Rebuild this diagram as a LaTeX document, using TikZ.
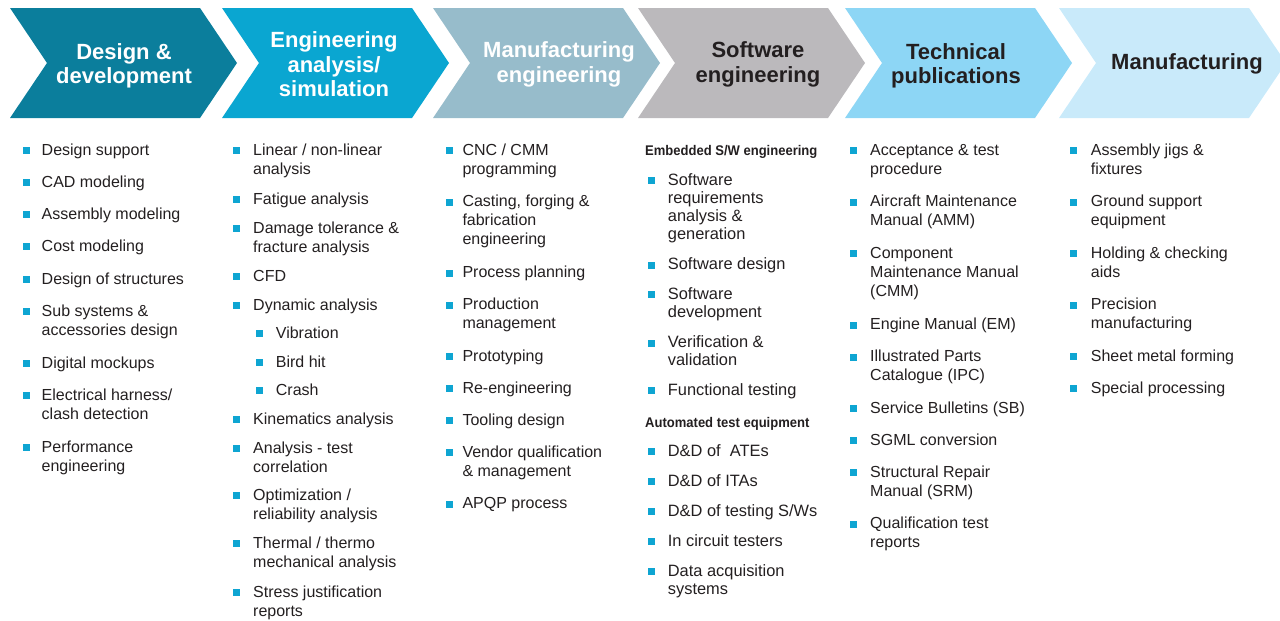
\documentclass[tikz,border=0pt]{standalone}
\usepackage{fontspec}
\setmainfont{Liberation Sans}
\newfontfamily\narrowfont[FakeStretch=0.93]{Liberation Sans}
\usepackage{tikz}
\usetikzlibrary{positioning}

\definecolor{chevA}{HTML}{0B7E9C}
\definecolor{chevB}{HTML}{0AA6D1}
\definecolor{chevC}{HTML}{97BCCB}
\definecolor{chevD}{HTML}{BBB9BC}
\definecolor{chevE}{HTML}{8DD6F5}
\definecolor{chevF}{HTML}{C9EAFA}
\definecolor{bulcol}{HTML}{0EA5D2}
\definecolor{txtcol}{HTML}{231F20}

\newcommand\itemlines[1]{\begin{tabular}[t]{@{}l@{}}#1\end{tabular}}

\tikzset{
  head/.style={font=\bfseries\fontsize{22}{24.5}\selectfont, align=center, anchor=base, inner sep=0pt},
  item/.style={font=\fontsize{16}{19}\selectfont, text=txtcol, anchor=base west, inner sep=0pt},
  itemsw/.style={item, font=\fontsize{16.4}{18.2}\selectfont},
  bul/.style={fill=bulcol, minimum size=7pt, inner sep=0pt},
  subhead/.style={font=\narrowfont\bfseries\fontsize{14}{16}\selectfont, text=txtcol, anchor=base west, inner sep=0pt}
}

\begin{document}
\begin{tikzpicture}[x=1pt, y=-1pt]
\useasboundingbox (0,0) rectangle (1280,621);
\foreach \x/\col in {10/chevA,222/chevB,433/chevC,638/chevD,845/chevE,1059/chevF}{\path[fill=\col] (\x,8) -- ++(190,0) -- ++(37,55) -- ++(-37,55) -- ++(-190,0) -- ++(37,-55) -- cycle;}

% headings, placed at the baseline of their last line
\node[head, text=white] (h1) at (124,83.5) {Design \&\\development};
\node[head, text=white] (h2) at (334,96.5) {Engineering\\analysis/\\simulation};
\node[head, text=white] (h3) at (559,82) {Manufacturing\\engineering};
\node[head, text=txtcol] (h4) at (758,82) {Software\\engineering};
\node[head, text=txtcol] (h5) at (956,83.5) {Technical\\publications};
\node[head, text=txtcol] (h6) at (1187,69) {Manufacturing};

% design & development
\foreach \y/\t [count=\i] in {155/Design support, 187/CAD modeling, 219/Assembly modeling, 251/Cost modeling, 284/Design of structures, 316/Sub systems \&\\accessories design, 368/Digital mockups, 400/Electrical harness{/}\\clash detection, 452/Performance\\engineering}{
  \node[bul] (bd\i) at (26,\y-4.5) {};
  \node[item] (d\i) at (41.5,\y) {\itemlines{\t}};}

% engineering analysis
\foreach \y/\t [count=\i] in {155/Linear {/} non-linear\\analysis, 204/Fatigue analysis, 233/Damage tolerance \&\\fracture analysis, 281/CFD, 310/Dynamic analysis, 424/Kinematics analysis, 453/Analysis - test\\correlation, 500/Optimization {/}\\reliability analysis, 548/Thermal {/} thermo\\mechanical analysis, 597/Stress justification\\reports}{
  \node[bul] (be\i) at (236,\y-4.5) {};
  \node[item] (e\i) at (253,\y) {\itemlines{\t}};}
\foreach \y/\t [count=\i] in {338/Vibration, 367/Bird hit, 395/Crash}{
  \node[bul] (bv\i) at (259.5,\y-4.5) {};
  \node[item] (v\i) at (275.7,\y) {\t};}

% manufacturing engineering
\foreach \y/\t [count=\i] in {155/CNC {/} CMM\\programming, 206.5/Casting{,} forging \&\\fabrication\\engineering, 277.5/Process planning, 309.5/Production\\management, 361/Prototyping, 393/Re-engineering, 425/Tooling design, 457/Vendor qualification\\\& management, 508.5/APQP process}{
  \node[bul] (bm\i) at (449.5,\y-4.5) {};
  \node[item] (m\i) at (462.3,\y) {\itemlines{\t}};}

% software engineering
\node[subhead] (sw1) at (645,155) {Embedded S/W engineering};
\node[subhead] (sw2) at (645,427) {Automated test equipment};
\foreach \y/\t [count=\i] in {185/Software\\requirements\\analysis \&\\generation, 269.5/Software design, 299/Software\\development, 347.5/Verification \&\\validation, 395/Functional testing, 456/D\&D of\ \ ATEs, 486/D\&D of ITAs, 516/D\&D of testing S{/}Ws, 546/In circuit testers, 576/Data acquisition\\systems}{
  \node[bul] (bs\i) at (651.5,\y-4.5) {};
  \node[itemsw] (s\i) at (667.7,\y) {\itemlines{\t}};}

% technical publications
\foreach \y/\t [count=\i] in {155/Acceptance \& test\\procedure, 206.5/Aircraft Maintenance\\Manual (AMM), 258/Component\\Maintenance Manual\\(CMM), 329.5/Engine Manual (EM), 361.5/Illustrated Parts\\Catalogue (IPC), 413/Service Bulletins (SB), 445/SGML conversion, 477/Structural Repair\\Manual (SRM), 528.5/Qualification test\\reports}{
  \node[bul] (bp\i) at (853.5,\y-4.5) {};
  \node[item] (p\i) at (870,\y) {\itemlines{\t}};}

% manufacturing
\foreach \y/\t [count=\i] in {155/Assembly jigs \&\\fixtures, 206.5/Ground support\\equipment, 258/Holding \& checking\\aids, 309.5/Precision\\manufacturing, 361/Sheet metal forming, 393/Special processing}{
  \node[bul] (bf\i) at (1073.5,\y-4.5) {};
  \node[item] (f\i) at (1090.7,\y) {\itemlines{\t}};}
\end{tikzpicture}
\end{document}
